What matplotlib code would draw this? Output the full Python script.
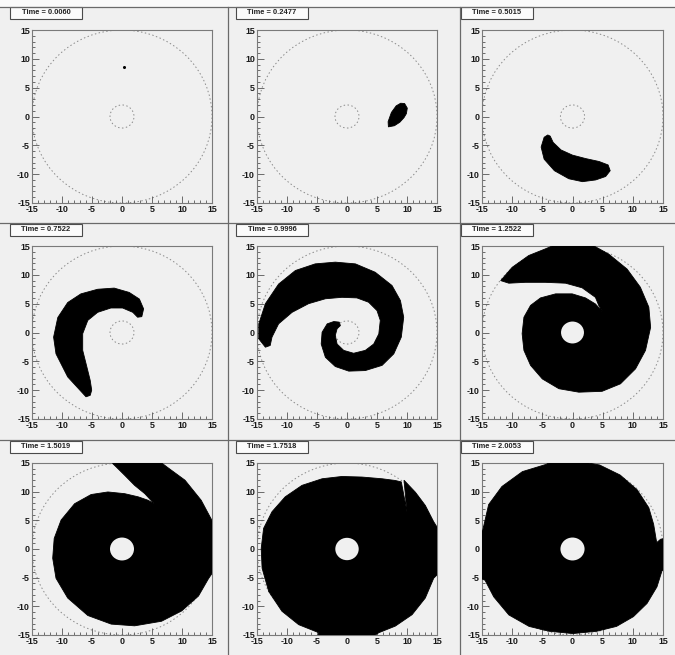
import matplotlib
matplotlib.use('Agg')
import matplotlib.pyplot as plt
from matplotlib.patches import Circle, Rectangle
from matplotlib.lines import Line2D

plt.rcParams['font.family'] = ['Liberation Sans', 'DejaVu Sans']
plt.rcParams['axes.unicode_minus'] = False

# time stamp of each frame
times = ['0.0060', '0.2477', '0.5015', '0.7522', '0.9996', '1.2522', '1.5019', '1.7518', '2.0053']

# outline of the black region per frame (x, y)
blob_0 = []
blob_1 = [(8.95, 2.3), (9.6, 2.25), (10.05, 1.45), (9.9, 0.5), (9.5, -0.2), (8.8, -1.0),
          (7.9, -1.6), (6.9, -1.8), (6.85, -0.9), (7.4, 0.7), (8.2, 1.85)]
blob_2 = [(-4.1, -3.2), (-4.7, -3.6), (-5.2, -5.3), (-4.7, -7.4), (-3.0, -9.4), (-0.6, -10.8),
          (1.65, -11.3), (3.85, -11.0), (5.5, -10.4), (6.25, -9.4), (5.9, -8.4), (4.4, -7.8),
          (2.2, -7.3), (0.0, -6.7), (-1.9, -5.8), (-3.2, -4.5), (-3.7, -3.4)]
blob_3 = [(-6.0, -11.15), (-9.05, -7.7), (-11.0, -3.7), (-11.4, -0.8), (-10.7, 2.6), (-9.05, 5.2),
          (-6.85, 6.7), (-4.05, 7.5), (-1.3, 7.7), (1.2, 6.95), (2.9, 5.8), (3.6, 4.1), (3.3, 2.75),
          (2.6, 2.65), (1.8, 3.5), (0.1, 4.25), (-1.85, 4.25), (-4.05, 3.5), (-5.7, 2.1),
          (-6.55, -0.2), (-6.55, -3.1), (-5.85, -6.0), (-5.3, -8.3), (-5.05, -10.0), (-5.3, -10.9)]
blob_4 = [(-13.6, -2.55), (-14.7, -1.1), (-14.7, 1.5), (-13.6, 5.0), (-11.4, 8.4), (-8.6, 10.75),
          (-5.3, 11.9), (-1.95, 12.2), (1.4, 11.9), (4.7, 10.45), (7.5, 8.15), (8.9, 5.55),
          (9.45, 2.65), (9.05, -0.8), (7.8, -3.7), (5.85, -5.7), (3.05, -6.6), (0.3, -6.7),
          (-1.95, -5.9), (-3.6, -4.3), (-4.3, -2.0), (-4.15, 0.05), (-3.3, 1.5), (-2.2, 1.9),
          (-1.3, 1.8), (-1.1, 1.2), (-1.65, 0.65), (-1.95, -0.5), (-1.65, -2.0), (-0.55, -3.1),
          (1.1, -3.6), (3.05, -3.1), (4.45, -2.0), (5.3, -0.25), (5.55, 2.1), (5.0, 3.8),
          (3.6, 5.25), (1.65, 6.0), (-0.85, 6.1), (-3.6, 5.85), (-6.4, 5.0), (-9.15, 3.5),
          (-11.4, 1.5), (-12.5, -0.8), (-12.8, -2.25)]
blob_5 = [(-11.9, 9.0), (-10.0, 11.3), (-7.25, 13.35), (-4.5, 14.5), (-2.25, 15.5), (2.7, 15.5),
          (6.0, 13.6), (9.05, 11.0), (11.25, 7.85), (12.65, 4.4), (12.95, 0.9), (12.1, -3.1),
          (10.45, -6.3), (7.95, -8.9), (4.9, -10.2), (1.05, -10.35), (-2.25, -9.75), (-5.0, -8.05),
          (-6.95, -5.7), (-8.05, -3.1), (-8.35, -0.2), (-8.05, 2.65), (-6.95, 4.7), (-5.3, 6.0),
          (-2.8, 6.7), (-0.05, 6.7), (2.15, 6.0), (3.8, 4.95), (4.8, 3.8), (5.2, 3.25),
          (4.35, 4.7), (3.8, 6.1), (1.6, 7.75), (-1.15, 8.55), (-4.5, 8.7), (-7.8, 8.7),
          (-10.55, 8.55)]
blob_6 = [(-1.8, 15.5), (-1.5, 14.85), (-0.95, 14.3), (0.45, 12.85), (2.1, 11.1), (3.8, 9.65),
          (5.35, 7.9), (4.35, 8.5), (2.7, 9.1), (0.45, 9.65), (-2.35, 9.95), (-5.15, 9.5),
          (-7.9, 7.9), (-10.15, 5.05), (-11.3, 1.85), (-11.55, -1.6), (-11.0, -5.1), (-9.05, -8.55),
          (-5.7, -11.6), (-1.8, -13.1), (2.1, -13.4), (6.6, -12.6), (9.95, -10.8), (12.75, -8.2),
          (14.4, -5.2), (15.5, -3.5), (15.5, 4.0), (13.2, 8.5), (10.5, 12.0), (7.5, 14.3),
          (6.0, 15.5)]
blob_7 = [(9.05, 11.7), (10.0, 6.5), (9.5, 12.0), (11.4, 9.9), (13.05, 7.6), (14.45, 4.75),
          (15.5, 3.0), (15.5, -4.0), (14.45, -5.1), (13.05, -8.55), (10.85, -11.45), (8.05, -13.45),
          (5.3, -14.6), (4.0, -15.5), (-5.0, -15.5), (-4.7, -14.6), (-8.05, -13.2), (-10.85, -10.85),
          (-13.05, -7.4), (-14.15, -3.35), (-14.3, 0.1), (-13.9, 3.6), (-12.5, 6.5), (-10.3, 9.1),
          (-7.5, 11.1), (-4.15, 12.25), (-0.85, 12.65), (2.5, 12.55), (5.85, 12.25), (8.05, 11.95)]
blob_8 = [(0.0, 15.5), (4.5, 14.65), (7.9, 12.9), (10.7, 10.35), (12.65, 7.2), (13.45, 4.3),
          (13.9, 1.45), (14.0, 1.15), (14.6, 1.7), (15.5, 1.9), (15.5, -3.75), (14.85, -3.75),
          (14.0, -6.6), (12.35, -9.5), (10.1, -11.8), (7.3, -13.5), (4.0, -14.35), (0.05, -14.75),
          (-3.85, -14.35), (-7.2, -13.5), (-10.55, -11.5), (-13.05, -8.35), (-14.5, -5.45),
          (-15.5, -5.0), (-15.5, 3.15), (-14.9, 3.15), (-13.9, 7.75), (-11.7, 10.9), (-8.3, 13.5),
          (-4.4, 14.75), (-3.0, 15.5)]
blobs = [blob_0, blob_1, blob_2, blob_3, blob_4, blob_5, blob_6, blob_7, blob_8]

# tiny seed in the first frame and radius of the hole left in the later frames
seed_x = [0.3]
seed_y = [8.5]
hole_r = [0, 0, 0, 0, 0, 1.9, 2.0, 1.95, 2.0]

W, H = 675, 655
bg = '#f0f0f0'
col_l = [32, 257, 482]
col_r = [212, 437, 663]
row_t = [30, 246, 463]
row_b = [203, 419, 635]
box_x = [10, 236, 461]
box_y = [7, 224, 441]

fig = plt.figure(figsize=(W / 100, H / 100), dpi=100, facecolor=bg)
fig.add_artist(Rectangle((0, 1 - 7 / H), 1, 7 / H, fc='#fafafa', ec='none', transform=fig.transFigure))

# pad separators
for xs in [228, 460]:
    fig.add_artist(Line2D([xs / W, xs / W], [0, 1 - 7 / H], color='#6a6a6a', lw=0.9))
for ys in [7, 223, 440]:
    fig.add_artist(Line2D([0, 1], [1 - ys / H, 1 - ys / H], color='#6a6a6a', lw=0.9))

for k in range(9):
    r, c = divmod(k, 3)
    ax = fig.add_axes([col_l[c] / W, 1 - row_b[r] / H,
                       (col_r[c] - col_l[c]) / W, (row_b[r] - row_t[r]) / H])
    ax.set_facecolor(bg)
    ax.set_xlim(-15, 15)
    ax.set_ylim(-15, 15)

    ax.add_patch(Circle((0, 0), 15, fill=False, ec='#8a8a8a', lw=0.7, ls=(0, (1.5, 2.5))))
    ax.add_patch(Circle((0, 0), 2, fill=False, ec='#8a8a8a', lw=0.7, ls=(0, (1.5, 2.5))))

    pts = blobs[k]
    if pts:
        ax.fill([p[0] for p in pts], [p[1] for p in pts], color='black', lw=0.6, zorder=3)
    if hole_r[k] > 0:
        ax.add_patch(Circle((0, 0), hole_r[k], fc=bg, ec='none', zorder=4))
    if k == 0:
        ax.plot(seed_x, seed_y, 'o', color='black', ms=1.2, zorder=3)

    ax.set_xticks([-15, -10, -5, 0, 5, 10, 15])
    ax.set_yticks([-15, -10, -5, 0, 5, 10, 15])
    ax.set_xticks(range(-15, 16), minor=True)
    ax.set_yticks(range(-15, 16), minor=True)
    ax.tick_params(which='both', direction='in', top=False, right=False,
                   color='#555555', width=0.6, labelsize=6.4, pad=1.5, labelcolor='#1a1a1a')
    ax.tick_params(which='major', length=5)
    ax.tick_params(which='minor', length=2.5)
    for lab in ax.get_xticklabels() + ax.get_yticklabels():
        lab.set_fontweight('bold')
    for s in ax.spines.values():
        s.set_color('#7a7a7a')
        s.set_linewidth(0.8)

    # title box
    fig.add_artist(Rectangle((box_x[c] / W, 1 - (box_y[r] + 12) / H), 72 / W, 12 / H,
                             fc='#fbfbfb', ec='#4a4a4a', lw=0.8, transform=fig.transFigure))
    fig.text((box_x[c] + 36) / W, 1 - (box_y[r] + 6) / H, 'Time = ' + times[k],
             ha='center', va='center', fontsize=5.4, fontweight='bold', color='#222222')

fig.savefig('out.png', dpi=100, facecolor=bg)
